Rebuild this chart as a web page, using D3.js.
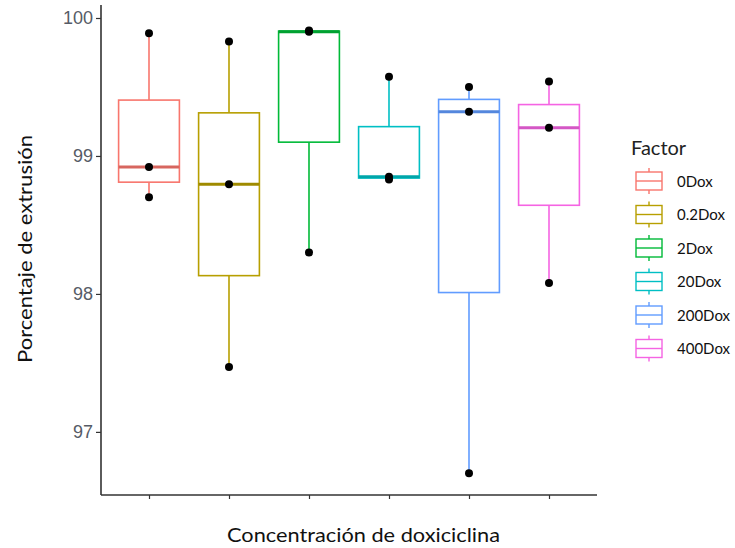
<!DOCTYPE html>
<html>
<head>
<meta charset="utf-8">
<script src="https://cdn.jsdelivr.net/npm/d3@7"></script>
<style>
  html, body { margin: 0; padding: 0; background: #fff; }
  svg { display: block; }
</style>
</head>
<body>
<svg id="chart" width="735" height="548"></svg>
<script>
// Groups (doxycycline concentration) and their colours
const categories = ["0Dox", "0.2Dox", "2Dox", "20Dox", "200Dox", "400Dox"];
const colors = ["#F8766D", "#B79F00", "#00BA38", "#00BFC4", "#619CFF", "#F564E3"];

// Measured extrusion percentage, three replicates per group
const values0 = [98.70, 98.92, 99.89];
const values02 = [97.47, 98.795, 99.83];
const values2 = [98.30, 99.90, 99.91];
const values20 = [98.83, 98.85, 99.575];
const values200 = [96.70, 99.32, 99.50];
const values400 = [98.08, 99.205, 99.54];
const seriesValues = [values0, values02, values2, values20, values200, values400];

const yTicks = [97, 98, 99, 100];

const svg = d3.select("#chart");
const plotLeft = 101, plotRight = 597, plotTop = 5, plotBottom = 495;

const x = d3.scalePoint().domain(categories).range([plotLeft, plotRight]).padding(0.6);
const y = d3.scaleLinear().domain([96.5425, 100.0942]).range([plotBottom, plotTop]);
const boxW = x.step() * 0.76;

// Five-number summaries (R type 7 quantiles, 1.5 IQR whiskers)
const stats = categories.map((c, i) => {
  const v = seriesValues[i].slice().sort(d3.ascending);
  const q1 = d3.quantile(v, 0.25), med = d3.quantile(v, 0.5), q3 = d3.quantile(v, 0.75);
  const iqr = q3 - q1;
  const lo = d3.min(v.filter(d => d >= q1 - 1.5 * iqr));
  const hi = d3.max(v.filter(d => d <= q3 + 1.5 * iqr));
  return { c, color: colors[i], v, q1, med, q3, lo, hi };
});

// Axes
const yAxis = d3.axisLeft(y).tickValues(yTicks).tickFormat(d3.format("d")).tickSize(5).tickPadding(3);
const gy = svg.append("g").attr("transform", `translate(${plotLeft},0)`).call(yAxis);
gy.select(".domain").attr("d", `M0,${plotTop}V${plotBottom}`).attr("stroke", "#333").attr("stroke-width", 1.6);
gy.selectAll(".tick line").attr("stroke", "#333").attr("stroke-width", 1.2);
gy.selectAll(".tick text").attr("fill", "#565b66").attr("font-family", "Liberation Sans, Arial, sans-serif").attr("font-size", 18);

const xAxis = d3.axisBottom(x).tickSize(4).tickFormat("");
const gx = svg.append("g").attr("transform", `translate(0,${plotBottom})`).call(xAxis);
gx.select(".domain").attr("d", `M${plotLeft},0H${plotRight}`).attr("stroke", "#333").attr("stroke-width", 1.6);
gx.selectAll(".tick line").attr("stroke", "#333").attr("stroke-width", 1.2);

// Boxes
const g = svg.append("g").selectAll("g").data(stats).join("g");
g.append("line")
  .attr("x1", d => x(d.c)).attr("x2", d => x(d.c))
  .attr("y1", d => y(d.hi)).attr("y2", d => y(d.q3))
  .attr("stroke", d => d.color).attr("stroke-width", 1.6);
g.append("line")
  .attr("x1", d => x(d.c)).attr("x2", d => x(d.c))
  .attr("y1", d => y(d.q1)).attr("y2", d => y(d.lo))
  .attr("stroke", d => d.color).attr("stroke-width", 1.6);
g.append("rect")
  .attr("x", d => x(d.c) - boxW / 2).attr("width", boxW)
  .attr("y", d => y(d.q3)).attr("height", d => y(d.q1) - y(d.q3))
  .attr("fill", "#fff").attr("stroke", d => d.color).attr("stroke-width", 1.6);
g.append("line")
  .attr("x1", d => x(d.c) - boxW / 2).attr("x2", d => x(d.c) + boxW / 2)
  .attr("y1", d => y(d.med)).attr("y2", d => y(d.med))
  .attr("stroke", d => d3.color(d.color).darker(0.4)).attr("stroke-width", 3);

// Individual observations
g.selectAll("circle").data(d => d.v.map(v => ({ c: d.c, v }))).join("circle")
  .attr("cx", d => x(d.c)).attr("cy", d => y(d.v)).attr("r", 4).attr("fill", "#000");

// Axis titles
svg.append("text")
  .attr("x", (227 + 500) / 2).attr("y", 542).attr("text-anchor", "middle")
  .attr("font-family", "Lato, sans-serif").attr("font-size", 20).attr("fill", "#111")
  .attr("textLength", 273).attr("lengthAdjust", "spacingAndGlyphs")
  .text("Concentración de doxiciclina");
svg.append("text")
  .attr("transform", "translate(32,249) rotate(-90)").attr("text-anchor", "middle")
  .attr("font-family", "Lato, sans-serif").attr("font-size", 20).attr("fill", "#111")
  .attr("textLength", 228).attr("lengthAdjust", "spacingAndGlyphs")
  .text("Porcentaje de extrusión");

// Legend
const lg = svg.append("g");
lg.append("text").attr("x", 631).attr("y", 155)
  .attr("font-family", "Lato, sans-serif").attr("font-size", 20).attr("fill", "#222")
  .text("Factor");
const item = lg.selectAll("g.item").data(stats).join("g").attr("class", "item")
  .attr("transform", (d, i) => `translate(649,${181 + i * 33.5})`);
item.append("line").attr("y1", -13).attr("y2", 13).attr("stroke", d => d.color).attr("stroke-width", 1.4);
item.append("rect").attr("x", -13).attr("y", -9).attr("width", 26).attr("height", 18)
  .attr("fill", "#fff").attr("stroke", d => d.color).attr("stroke-width", 1.4);
item.append("line").attr("x1", -13).attr("x2", 13).attr("stroke", d => d.color).attr("stroke-width", 1.4);
item.append("text").attr("x", 28).attr("y", 5.5)
  .attr("font-family", "Lato, sans-serif").attr("font-size", 15).attr("fill", "#111")
  .text(d => d.c);
</script>
</body>
</html>
